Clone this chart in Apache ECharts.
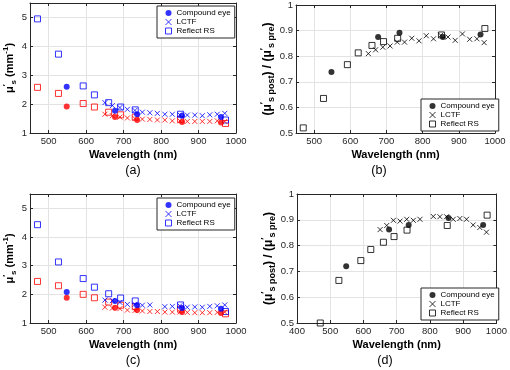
<!DOCTYPE html>
<html>
<head>
<meta charset="utf-8">
<script src="https://cdn.jsdelivr.net/npm/echarts@6/dist/echarts.min.js"></script>
<style>
html, body { margin: 0; padding: 0; background: #fff; }
#chart { width: 510px; height: 370px; }
</style>
</head>
<body>
<div id="chart"></div>
<script>
// wavelengths (nm)
const ceWl = [548, 677, 736, 856, 960];
const lctfWl = [650, 670, 690, 710, 730, 750, 770, 790, 810, 830, 850, 870, 890, 910, 930, 950, 970];
const rsWl = [470, 526, 592, 622, 660, 692, 731, 852, 972];

// (a) mu_s' before (blue) and after (red)
const aCeBlue = [2.6, 1.77, 1.65, 1.6, 1.55];
const aCeRed = [1.92, 1.55, 1.45, 1.38, 1.36];
const aLctfBlue = [2.05, 1.95, 1.88, 1.82, 1.78, 1.72, 1.7, 1.68, 1.65, 1.65, 1.63, 1.62, 1.62, 1.6, 1.63, 1.65, 1.68];
const aLctfRed = [1.65, 1.6, 1.55, 1.52, 1.5, 1.48, 1.47, 1.45, 1.45, 1.42, 1.42, 1.4, 1.4, 1.4, 1.4, 1.42, 1.4];
const aRsBlue = [4.95, 3.73, 2.63, 2.32, 2.05, 1.9, 1.8, 1.65, 1.45];
const aRsRed = [2.58, 2.37, 2.02, 1.9, 1.72, 1.63, 1.55, 1.47, 1.33];

// (b) ratio post / pre
const bCe = [0.738, 0.875, 0.892, 0.875, 0.885];
const bLctf = [0.81, 0.825, 0.835, 0.84, 0.855, 0.855, 0.87, 0.86, 0.88, 0.868, 0.882, 0.875, 0.862, 0.887, 0.866, 0.868, 0.853];
const bRs = [0.52, 0.635, 0.767, 0.813, 0.842, 0.857, 0.87, 0.883, 0.908];

// (c)
const cCeBlue = [2.08, 1.77, 1.62, 1.52, 1.5];
const cCeRed = [1.88, 1.53, 1.45, 1.38, 1.35];
const cLctfBlue = [1.8, 1.78, 1.72, 1.65, 1.65, 1.62, 1.63, null, 1.57, 1.58, 1.6, 1.55, 1.56, 1.55, 1.58, 1.6, 1.63];
const cLctfRed = [1.55, 1.52, 1.5, 1.45, 1.43, 1.42, 1.4, 1.4, 1.38, 1.38, 1.38, 1.37, 1.36, 1.36, 1.36, 1.37, 1.38];
const cRsBlue = [4.43, 3.13, 2.55, 2.25, 2.02, 1.87, 1.77, 1.63, 1.4];
const cRsRed = [2.45, 2.3, 2.0, 1.88, 1.73, 1.62, 1.57, 1.48, 1.32];

// (d)
const dCe = [0.72, 0.862, 0.88, 0.907, 0.88];
const dLctf = [0.862, 0.878, 0.898, 0.895, 0.902, 0.898, 0.902, null, 0.913, 0.912, 0.912, 0.902, 0.905, 0.902, 0.88, 0.87, 0.852];
const dRs = [0.5, 0.665, 0.742, 0.785, 0.813, 0.835, 0.86, 0.878, 0.918];

const xTicksAbc = [500, 600, 700, 800, 900, 1000];
const xTicksD = [400, 500, 600, 700, 800, 900, 1000];
const panelTags = ['(a)', '(b)', '(c)', '(d)'];
const legendNames = ['Compound eye', 'LCTF', 'Reflect RS'];

const FONT = '"Liberation Sans", Arial, sans-serif';
const AX = '#262626';
const BLUE = '#0000ff', RED = '#ff0000', BLACK = '#000000';
const CROSS = 'path://M0,0L10,10M10,0L0,10';

const grids = [
  { left: 30, top: 3, width: 206, height: 130 },
  { left: 296, top: 4, width: 199, height: 129 },
  { left: 30, top: 194, width: 206, height: 129 },
  { left: 297, top: 194, width: 203, height: 129 }
];
const xMin = [450, 450, 450, 400];
const yMin = [1, 0.5, 1, 0.5];
const yMax = [5.5, 1, 5.5, 1];
const yStep = [1, 0.1, 1, 0.1];
const yNameGap = [9, 16, 9, 19];

function pts(wl, vals) {
  return wl.map((w, i) => [w, vals[i]]).filter(p => p[1] != null);
}

function mark(name, idx, wl, vals, kind, color) {
  const s = {
    type: 'scatter', name: name, xAxisIndex: idx, yAxisIndex: idx,
    data: pts(wl, vals), silent: true
  };
  if (kind === 'ce') {
    s.symbol = 'circle'; s.symbolSize = 6; s.z = 4;
    s.itemStyle = { color: color };
  } else if (kind === 'lctf') {
    s.symbol = CROSS; s.symbolSize = 5; s.z = 3;
    s.itemStyle = { color: color, borderColor: color, borderWidth: 1 };
  } else {
    s.symbol = 'rect'; s.symbolSize = 6; s.z = 2;
    s.itemStyle = { color: 'rgba(0,0,0,0)', borderColor: color, borderWidth: 1 };
  }
  return s;
}

function richFor(size, subSize) {
  return {
    b: { fontSize: size, fontWeight: 'bold', fontFamily: FONT, color: '#000', lineHeight: size + 5 },
    sup: { fontSize: subSize, fontWeight: 'bold', fontFamily: FONT, color: '#000', verticalAlign: 'top' },
    sub: { fontSize: subSize, fontWeight: 'bold', fontFamily: FONT, color: '#000', verticalAlign: 'bottom' }
  };
}
const muName = '{b|μ}{sup|′}{sub|s}{b| (mm}{sup|-1}{b|)}';
const ratioName = '{b|(μ}{sup|′}{sub|s post}{b|) / (μ}{sup|′}{sub|s pre}{b|)}';

const xAxes = [], yAxes = [];
grids.forEach((g, i) => {
  const ticks = i === 3 ? xTicksD : xTicksAbc;
  xAxes.push({
    type: 'value', gridIndex: i, min: xMin[i], max: 1000, position: 'bottom',
    name: 'Wavelength (nm)', nameLocation: 'middle', nameGap: 16,
    nameTextStyle: { fontFamily: FONT, fontSize: 11, fontWeight: 'bold', color: '#000' },
    axisLine: { onZero: false, lineStyle: { color: AX, width: 1 } },
    axisTick: { inside: true, length: 3, customValues: ticks, lineStyle: { color: AX } },
    axisLabel: { customValues: ticks, margin: 3, fontFamily: FONT, fontSize: 9.5, color: AX, formatter: v => String(v) },
    splitLine: { show: true, lineStyle: { color: '#e3e3e3', width: 1 } }
  });
  xAxes.push({
    type: 'value', gridIndex: i, min: xMin[i], max: 1000, position: 'top',
    axisLine: { onZero: false, lineStyle: { color: AX, width: 1 } },
    axisTick: { inside: true, length: 3, customValues: ticks, lineStyle: { color: AX } },
    axisLabel: { show: false }, splitLine: { show: false }
  });
  const yLabel = v => (Math.abs(v / yStep[i] - Math.round(v / yStep[i])) < 1e-6 ? String(+v.toFixed(1)) : '');
  const isRatio = i % 2 === 1;
  yAxes.push({
    type: 'value', gridIndex: i, min: yMin[i], max: yMax[i], interval: yStep[i], position: 'left',
    name: isRatio ? ratioName : muName, nameLocation: 'middle', nameRotate: 90, nameGap: yNameGap[i],
    nameTextStyle: { rich: isRatio ? richFor(12, 9) : richFor(11, 8) },
    axisLine: { onZero: false, lineStyle: { color: AX, width: 1 } },
    axisTick: { inside: true, length: 3, lineStyle: { color: AX } },
    axisLabel: { margin: 3, fontFamily: FONT, fontSize: 9.5, color: AX, formatter: yLabel },
    splitLine: { show: true, lineStyle: { color: '#e3e3e3', width: 1 } }
  });
  yAxes.push({
    type: 'value', gridIndex: i, min: yMin[i], max: yMax[i], interval: yStep[i], position: 'right',
    axisLine: { onZero: false, lineStyle: { color: AX, width: 1 } },
    axisTick: { inside: true, length: 3, lineStyle: { color: AX } },
    axisLabel: { show: false }, splitLine: { show: false }
  });
});

// axis index of panel i = 2*i (bottom/left)
const series = [
  mark('a-rs-red', 0, rsWl, aRsRed, 'rs', RED),
  mark('a-lctf-red', 0, lctfWl, aLctfRed, 'lctf', RED),
  mark('a-ce-red', 0, ceWl, aCeRed, 'ce', RED),
  mark('Reflect RS', 0, rsWl, aRsBlue, 'rs', BLUE),
  mark('LCTF', 0, lctfWl, aLctfBlue, 'lctf', BLUE),
  mark('Compound eye', 0, ceWl, aCeBlue, 'ce', BLUE),

  mark('Reflect RS ', 2, rsWl, bRs, 'rs', BLACK),
  mark('LCTF ', 2, lctfWl, bLctf, 'lctf', BLACK),
  mark('Compound eye ', 2, ceWl, bCe, 'ce', BLACK),

  mark('c-rs-red', 4, rsWl, cRsRed, 'rs', RED),
  mark('c-lctf-red', 4, lctfWl, cLctfRed, 'lctf', RED),
  mark('c-ce-red', 4, ceWl, cCeRed, 'ce', RED),
  mark('Reflect RS', 4, rsWl, cRsBlue, 'rs', BLUE),
  mark('LCTF', 4, lctfWl, cLctfBlue, 'lctf', BLUE),
  mark('Compound eye', 4, ceWl, cCeBlue, 'ce', BLUE),

  mark('Reflect RS ', 6, rsWl, dRs, 'rs', BLACK),
  mark('LCTF ', 6, lctfWl, dLctf, 'lctf', BLACK),
  mark('Compound eye ', 6, ceWl, dCe, 'ce', BLACK)
];

function legendAt(left, top, suffix) {
  return {
    left: left, top: top, orient: 'vertical', selectedMode: false,
    data: legendNames.map(n => n + suffix),
    formatter: n => n.trim(),
    itemWidth: 6, itemHeight: 6, itemGap: 1,
    itemStyle: { borderWidth: 1 },
    padding: [3, 4, 3, 8],
    backgroundColor: '#fff', borderColor: AX, borderWidth: 1, borderRadius: 0,
    textStyle: { fontFamily: FONT, fontSize: 8, color: '#000', lineHeight: 8 }
  };
}

const tagPos = [[133, 171], [379, 171], [133, 361], [385, 361]];

const chart = echarts.init(document.getElementById('chart'));
chart.setOption({
  animation: false,
  backgroundColor: '#fff',
  grid: grids,
  xAxis: xAxes,
  yAxis: yAxes,
  legend: [
    legendAt(157, 6, ''),
    legendAt(421, 99, ' '),
    legendAt(157, 198, ''),
    legendAt(421, 288, ' ')
  ],
  graphic: panelTags.map((t, i) => ({
    type: 'text', x: tagPos[i][0], y: tagPos[i][1], silent: true,
    style: {
      text: t, fill: '#000', font: '12.5px ' + FONT,
      align: 'center', verticalAlign: 'middle', textAlign: 'center', textVerticalAlign: 'middle'
    }
  })),
  series: series
});
</script>
</body>
</html>
